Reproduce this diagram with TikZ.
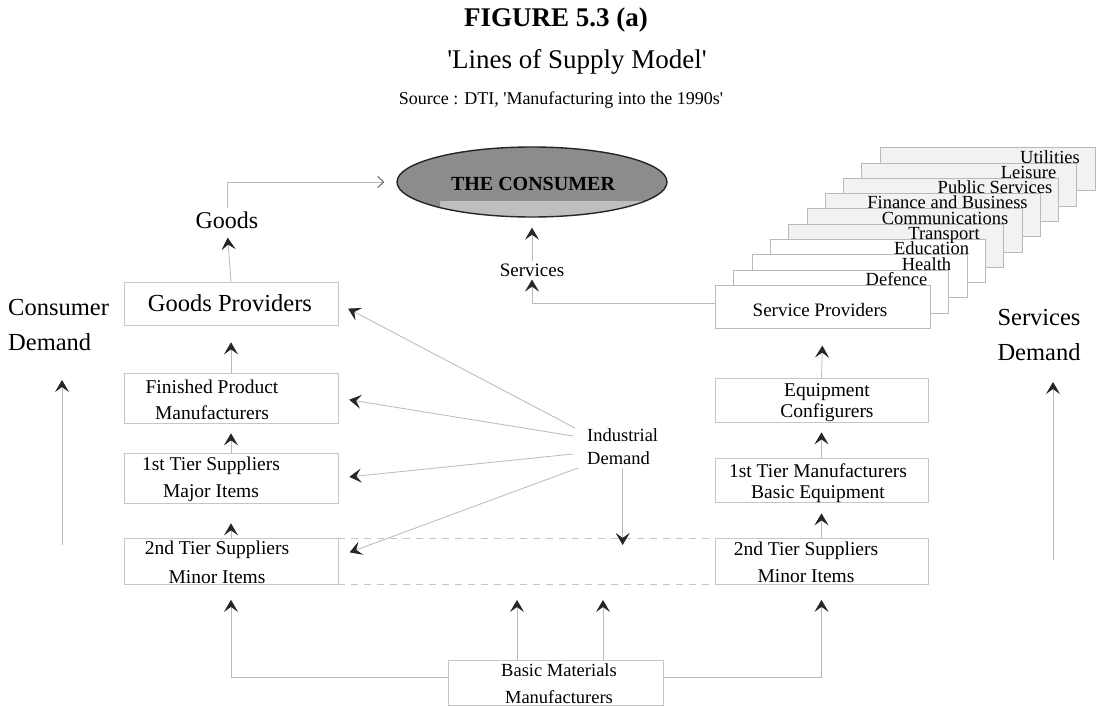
\documentclass[tikz,border=0pt]{standalone}
\usepackage{fontspec}
\setmainfont{Liberation Serif}[Ligatures=TeXOff]
\usetikzlibrary{arrows.meta,shapes.geometric,calc}
\newcommand\fsz[2]{\fontsize{#1}{#2}\selectfont}

\begin{document}
\begin{tikzpicture}[x=1pt,y=-1pt,
  box/.style={draw=gray!45, line width=0.7pt, fill=white, inner sep=0pt},
  lbl/.style={inner sep=0pt, align=center},
  line/.style={draw=gray!55, line width=0.8pt},
  arr/.style={line, -{Stealth[length=12pt,width=14pt,inset=5pt,color=black!85]}},
  harr/.style={line, -{Straight Barb[length=6pt,width=11pt,color=black!70]}},
  dashline/.style={draw=gray!45, line width=0.8pt, dash pattern=on 7pt off 6pt},
  card/.style={draw=gray!55, line width=0.6pt, minimum width=215pt, minimum height=43pt,
               inner sep=0pt, anchor=north west},
  cardtext/.style={inner sep=0pt, anchor=base, font=\fsz{18.5}{18.5}},
]
\fill[white] (0,0) rectangle (1096,706);
\useasboundingbox (0,0) rectangle (1096,706);

% ---------- titles ----------
\node[font=\fsz{27}{27}\bfseries] (fig) at (556,20) {FIGURE 5.3 (a)};
\node[font=\fsz{27}{27}] (ttl) at (577,62) {'Lines of Supply Model'};
\node[font=\fsz{18}{18}] (src) at (561,100) {Source : DTI, 'Manufacturing into the 1990s'};

% ---------- the consumer ----------
\fill[black!45] (532,182) ellipse [x radius=135pt, y radius=35pt];
\begin{scope}
  \clip (532,182) ellipse [x radius=135pt, y radius=35pt];
  \fill[black!25] (440,201) rectangle (660,220);
\end{scope}
\node[ellipse, draw=black!85, line width=1.4pt, minimum width=270pt,
      minimum height=70pt, inner sep=0pt] (cons) at (532,182) {};
\node[font=\fsz{20}{20}\bfseries, text=black] (constext) at (533,184) {THE CONSUMER};

% ---------- left column: goods ----------
\node[box, minimum width=214pt, minimum height=43pt] (gp) at (231,303.5) {};
\node[lbl, font=\fsz{24.5}{24.5}] (gpt) at (230,303) {Goods Providers};
\node[box, minimum width=214pt, minimum height=50pt] (fp) at (231,398) {};
\node[lbl, font=\fsz{19.5}{26}] (fpt) at (212,400) {Finished Product\\Manufacturers};
\node[box, minimum width=214pt, minimum height=50pt] (l1) at (231,478) {};
\node[lbl, font=\fsz{19.5}{27}] (l1t) at (211,479) {1st Tier Suppliers\\Major Items};
\node[box, minimum width=214pt, minimum height=46pt] (l2) at (231,561.5) {};
\node[lbl, font=\fsz{19.5}{29}] (l2t) at (217,562.5) {2nd Tier Suppliers\\Minor Items};

\node[lbl, font=\fsz{24}{24}] (goods) at (227,220) {Goods};
\node[lbl, font=\fsz{24.5}{35}, align=left, anchor=west] (cdem) at (8,325) {Consumer\\Demand};

% ---------- right column: services ----------
\foreach \k in {9,...,1}{
  \ifnum\k>3
    \node[card, fill=gray!10] (card\k) at ({715+18.3*\k},{285-15.3*\k}) {};
  \else
    \node[card, fill=white] (card\k) at ({715+18.3*\k},{285-15.3*\k}) {};
  \fi
}
\node[card, fill=white] (sp) at (715,285) {};
\node[lbl, font=\fsz{19}{19}] (spt) at (820,310) {Service Providers};

\node[cardtext] (c1) at (896.5,285.5) {Defence};
\node[cardtext] (c2) at (926.5,270.2) {Health};
\node[cardtext] (c3) at (931.5,254.9) {Education};
\node[cardtext] (c4) at (944,239.6) {Transport};
\node[cardtext] (c5) at (945,224.3) {Communications};
\node[cardtext] (c6) at (947.5,209) {Finance and Business};
\node[cardtext] (c7) at (995,193.7) {Public Services};
\node[cardtext] (c8) at (1028.5,178.4) {Leisure};
\node[cardtext] (c9) at (1050,163.1) {Utilities};

\node[box, minimum width=213pt, minimum height=44pt] (eq) at (821.5,400) {};
\node[lbl, font=\fsz{19.5}{21}] (eqt) at (827,403) {Equipment\\Configurers};
\node[box, minimum width=213pt, minimum height=44pt] (r1) at (821.5,480) {};
\node[lbl, font=\fsz{19.5}{21}] (r1t) at (818,483) {1st Tier Manufacturers\\Basic Equipment};
\node[box, minimum width=213pt, minimum height=46pt] (r2) at (821.5,561.5) {};
\node[lbl, font=\fsz{19.5}{27}] (r2t) at (806,562.5) {2nd Tier Suppliers\\Minor Items};

\node[lbl, font=\fsz{19}{19}] (serv) at (532,270) {Services};
\node[lbl, font=\fsz{24.5}{35}] (sdem) at (1039,335) {Services\\Demand};

% ---------- industrial demand and basic materials ----------
\node[lbl, font=\fsz{18.5}{23}, align=left, anchor=west] (ind) at (587,447) {Industrial\\Demand};
\node[box, minimum width=215pt, minimum height=45pt] (bm) at (555.5,682.5) {};
\node[lbl, font=\fsz{18.5}{27}] (bmt) at (559,684) {Basic Materials\\Manufacturers};

% free ends
\coordinate (cdb) at (62,545);
\coordinate (cdt) at (62,380);
\coordinate (sdb) at (1053,560);
\coordinate (sdt) at (1053,382);
\coordinate (m1) at (517,600);
\coordinate (m2) at (603,600);
\coordinate (dtip) at (622,545);

% ---------- connectors ----------
% goods to the consumer
\draw[arr, shorten >=9pt] (gp.north) -- (goods.south);
\draw[harr, shorten <=3pt, shorten >=12pt] (goods.north) |- (cons.west);
% services to the consumer
\draw[arr, shorten <=2pt, shorten >=10pt] (serv.north) -- (cons.south);
\draw[arr, shorten >=3pt] ([yshift=3pt]sp.west) -| (serv.south);

% upward supply chains
\draw[arr, shorten >=17pt] (fp.north) -- (gp.south);
\draw[arr, shorten >=10pt] (l1.north) -- (fp.south);
\draw[arr, shorten >=20pt] (l2.north) -- (l1.south);
\draw[arr, shorten >=17pt] (eq.north) -- (sp.south);
\draw[arr, shorten >=10pt] (r1.north) -- (eq.south);
\draw[arr, shorten >=11pt] (r2.north) -- (r1.south);

% demand arrows at the sides
\draw[arr] (cdb) -- (cdt);
\draw[arr] (sdb) -- (sdt);

% links between the two 2nd tier boxes
\draw[dashline] (l2.north east) -- (r2.north west);
\draw[dashline] (l2.south east) -- (r2.south west);

% industrial demand
\draw[arr, shorten >=11pt] ($(ind.west)+(-12,-19)$) -- (gp.east);
\draw[arr, shorten >=11pt] ($(ind.west)+(-14,-11)$) -- (fp.east);
\draw[arr, shorten >=11pt] ($(ind.west)+(-14,7)$) -- (l1.east);
\draw[arr, shorten >=12pt] ($(ind.west)+(-9,21)$) -- ([yshift=5pt]l2.east);
\draw[arr, shorten <=3pt] (ind.south) -- (ind.south |- dtip);

% basic materials feeding upwards
\draw[arr, shorten >=15pt] ([yshift=5pt]bm.west) -| (l2.south);
\draw[arr, shorten >=15pt] ([yshift=5pt]bm.east) -| (r2.south);
\draw[arr] (bm.north -| m1) -- (m1);
\draw[arr] (bm.north -| m2) -- (m2);

\end{tikzpicture}
\end{document}
